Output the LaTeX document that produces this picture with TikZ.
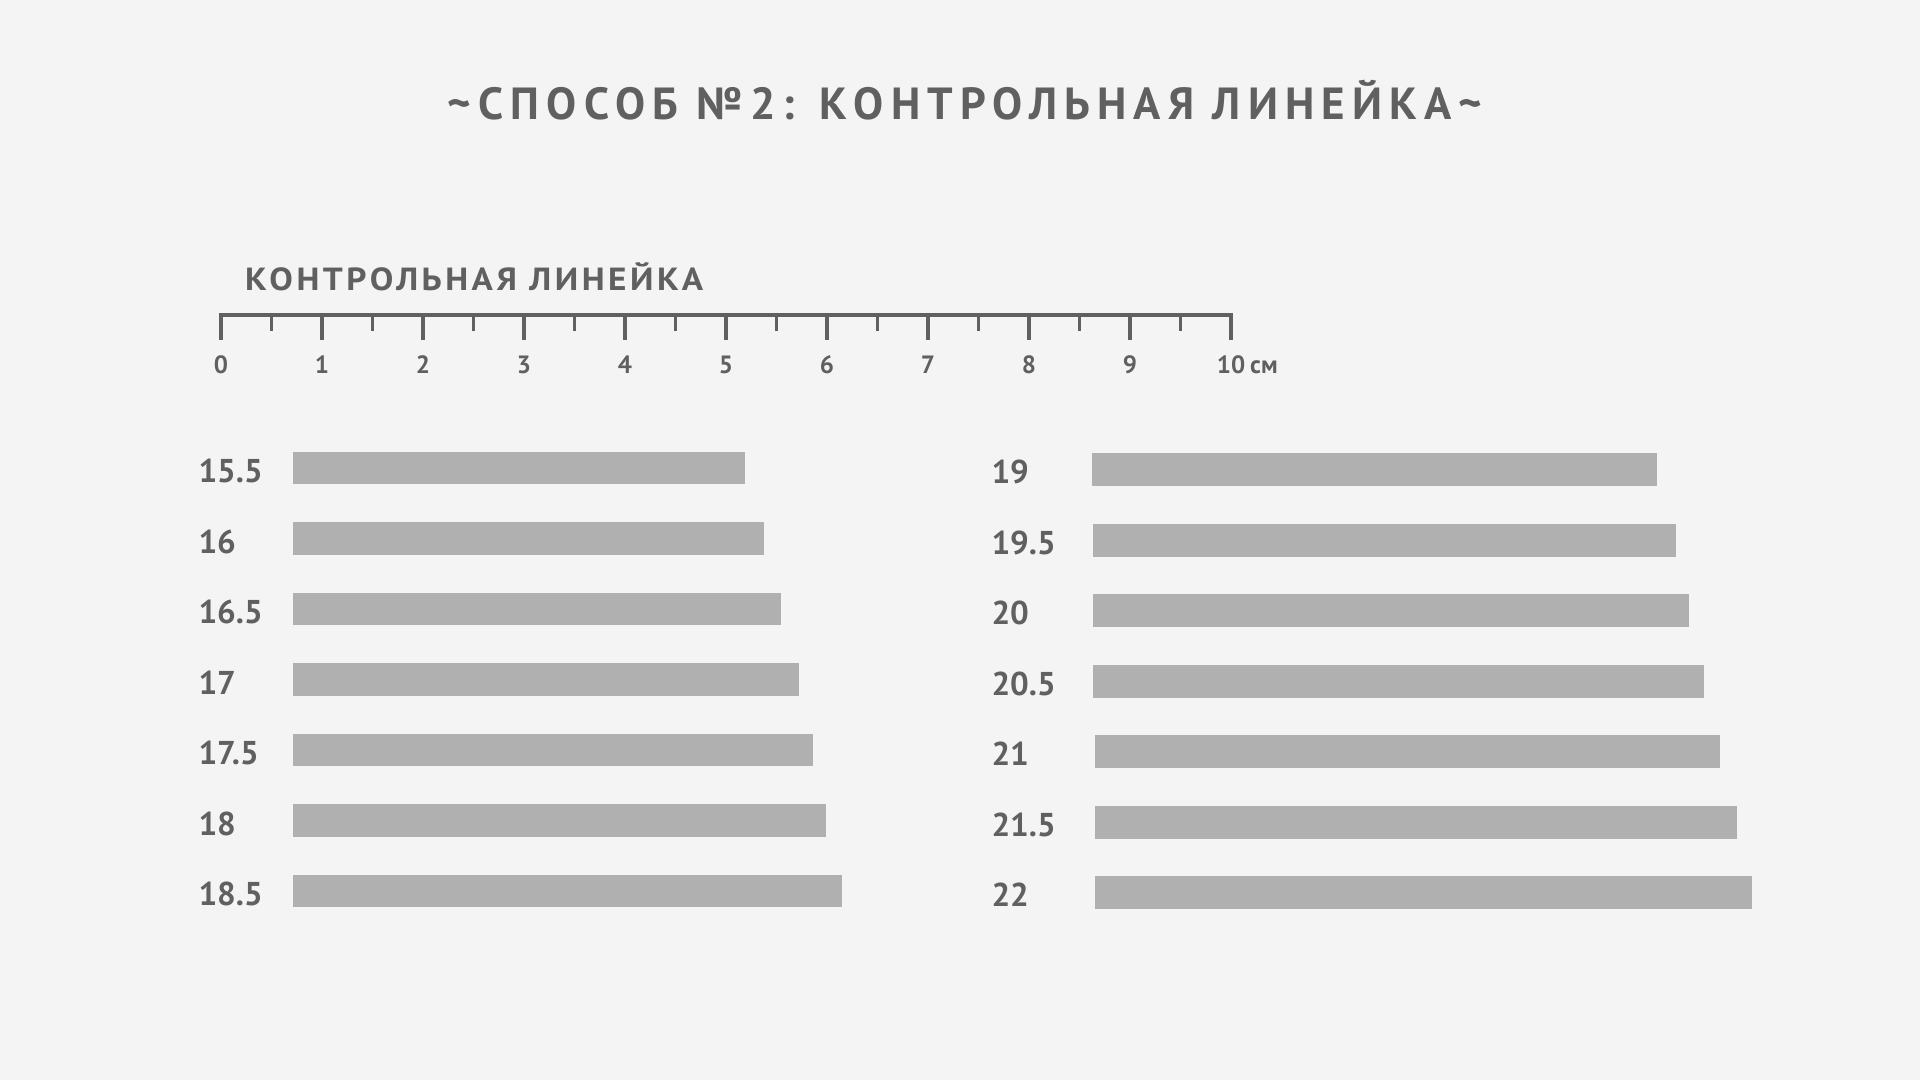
\documentclass[tikz,border=0pt]{standalone}
\usepackage{fontspec}
\setmainfont{PT Sans}
\newfontfamily\titlefont[LetterSpace=16]{PT Sans}
\newfontfamily\subfont[LetterSpace=10]{PT Sans}
\definecolor{bg}{HTML}{F4F4F4}
\definecolor{ink}{HTML}{606060}
\definecolor{barc}{HTML}{B0B0B0}
\tikzset{
  txt/.style={inner sep=0pt, outer sep=0pt, text=ink, font=\bfseries},
  titletxt/.style={txt, font=\titlefont\bfseries\fontsize{45}{45}\selectfont, anchor=base},
  subtxt/.style={txt, font=\subfont\bfseries\fontsize{32}{32}\selectfont, anchor=base west},
  rulnum/.style={txt, font=\bfseries\fontsize{25}{25}\selectfont, anchor=base},
  barlab/.style={txt, font=\bfseries\fontsize{33}{33}\selectfont, anchor=base west},
  bar/.style={fill=barc},
  rulerline/.style={draw=ink, line width=4.5pt},
  tickline/.style={draw=ink, line width=3.5pt}
}
\begin{document}
\begin{tikzpicture}[x=1pt,y=-1pt]
\useasboundingbox (0,0) rectangle (1920,1080);
\fill[bg] (0,0) rectangle (1920,1080);

% title
\node[titletxt] (title) at (965,119.5) {\textasciitilde СПОСОБ №2: КОНТРОЛЬНАЯ ЛИНЕЙКА\textasciitilde};

% ruler heading
\node[subtxt] (rulerhead) at (245,290.7) {\scalebox{1.1}[1]{КОНТРОЛЬНАЯ ЛИНЕЙКА}};

% ruler
\coordinate (r0) at (221,315);
\coordinate (r10) at (1231,315);
\draw[rulerline] ([xshift=-1.7pt]r0) -- ([xshift=1.7pt]r10);
\foreach \k in {0,...,20}{
  \pgfmathsetmacro{\xx}{221+50.5*\k}
  \ifodd\k
    \draw[tickline] (\xx,314) -- (\xx,331);
  \else
    \draw[tickline] (\xx,314) -- (\xx,340);
  \fi
}
\foreach \j in {0,...,9}{
  \pgfmathsetmacro{\xx}{221+101*\j}
  \node[rulnum] (n\j) at (\xx,373) {\j};
}
\node[rulnum] (n10) at (1231,373) {10};
\node[txt, font=\bfseries\fontsize{25}{25}\selectfont, anchor=base west] (cm) at ([xshift=5pt]n10.base east) {см};

% left bars
\foreach \lab/\xe [count=\i from 0] in {15.5/745,16/764,16.5/781,17/799,17.5/813,18/826,18.5/842}{
  \pgfmathsetmacro{\yt}{451.7+70.5*\i}
  \fill[bar] (292.5,\yt) rectangle (\xe,\yt+32.5);
  \node[barlab] (L\i) at (198.5,\yt+30.8) {\lab};
}
% right bars
\foreach \lab/\xs/\xe [count=\i from 0] in {19/1092/1657,19.5/1093/1676,20/1093/1689,20.5/1093/1704,21/1095/1720,21.5/1095/1737,22/1095/1752}{
  \pgfmathsetmacro{\yt}{453.3+70.45*\i}
  \fill[bar] (\xs,\yt) rectangle (\xe,\yt+33);
  \node[barlab] (R\i) at (991.5,\yt+30.5) {\lab};
}
\end{tikzpicture}
\end{document}
